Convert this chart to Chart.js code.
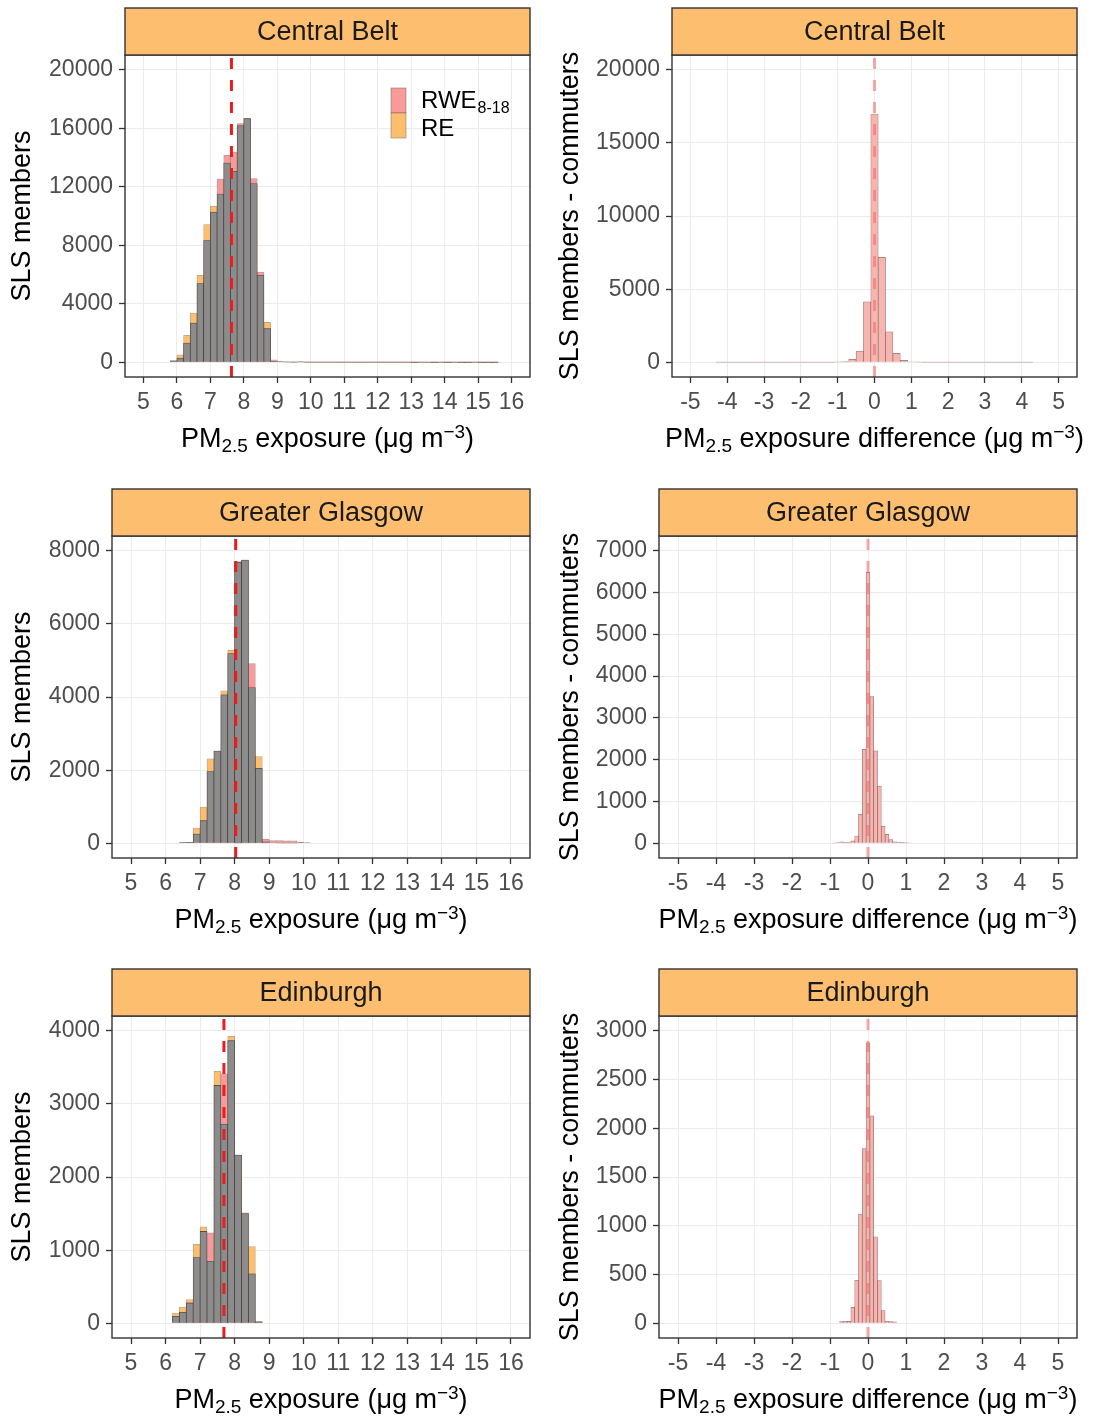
<!DOCTYPE html>
<html>
<head>
<meta charset="utf-8">
<script src="https://cdn.jsdelivr.net/npm/chart.js@4.4.1/dist/chart.umd.min.js"></script>
<style>
  html, body { margin: 0; padding: 0; background: #ffffff; }
  #page { position: relative; width: 1095px; height: 1416px; overflow: hidden; background: #ffffff; }
  #page canvas { position: absolute; }
</style>
</head>
<body>
<div id="page"></div>
<script>
// ---------- tick labels ----------
const exposureTicks = [5, 6, 7, 8, 9, 10, 11, 12, 13, 14, 15, 16];
const differenceTicks = [-5, -4, -3, -2, -1, 0, 1, 2, 3, 4, 5];
const centralBeltCountTicks = [0, 4000, 8000, 12000, 16000, 20000];
const centralBeltDiffCountTicks = [0, 5000, 10000, 15000, 20000];
const glasgowCountTicks = [0, 2000, 4000, 6000, 8000];
const glasgowDiffCountTicks = [0, 1000, 2000, 3000, 4000, 5000, 6000, 7000];
const edinburghCountTicks = [0, 1000, 2000, 3000, 4000];
const edinburghDiffCountTicks = [0, 500, 1000, 1500, 2000, 2500, 3000];

// ---------- categories ----------
const regions = ['Central Belt', 'Greater Glasgow', 'Edinburgh'];
const seriesNames = ['RWE', 'RE'];

// ---------- Central Belt: exposure histogram (bins of 0.2 from 5.8) ----------
const centralBeltBinStart = 5.8;
const centralBeltBinWidth = 0.2;
const centralBeltRWE = [110, 300, 1320, 2690, 5380, 8320, 10270, 12530, 14150, 14370,
  16310, 16650, 12550, 6170, 2300, 180, 70, 30, 40, 60,
  25, 15, 10, 10, 12, 8, 10, 8, 6, 8,
  10, 6, 5, 8, 6, 5, 4, 6, 5, 4,
  6, 4, 5, 3, 4, 5, 3, 4, 3];
const centralBeltRE = [110, 520, 1850, 3370, 5950, 9410, 10660, 11500, 13620, 13050,
  16170, 16650, 12210, 5950, 2730, 70, 40, 25, 20, 30,
  20, 15, 10, 10, 12, 8, 10, 8, 6, 8,
  10, 6, 5, 8, 6, 5, 4, 6, 5, 4,
  6, 4, 5, 3, 4, 5, 3, 4, 3];

// ---------- Central Belt: exposure difference (bins of 0.2 from -4.3) ----------
const centralBeltDiffBinStart = -4.3;
const centralBeltDiffBinWidth = 0.2;
const centralBeltDiff = [5, 8, 5, 6, 5, 6, 8, 6, 7, 8,
  10, 9, 10, 12, 14, 18, 25, 50, 200, 770,
  4140, 16970, 7170, 2090, 610, 140, 40, 22, 15, 12,
  10, 9, 8, 8, 7, 6, 7, 6, 6, 8,
  15, 20, 8];

// ---------- Greater Glasgow: exposure histogram (bins of 0.2 from 6.4) ----------
const glasgowBinStart = 6.4;
const glasgowBinWidth = 0.2;
const glasgowRWE = [20, 25, 256, 620, 1960, 2520, 4060, 5190, 7700, 7740, 4910, 2050, 110, 75, 75, 70, 72, 20, 15];
const glasgowRE = [20, 25, 420, 990, 2310, 2520, 4170, 5280, 7680, 7740, 4260, 2370, 40, 15, 12, 10, 10, 20, 15];

// ---------- Greater Glasgow: exposure difference (bins of 0.1 from -0.95) ----------
const glasgowDiffBinStart = -0.95;
const glasgowDiffBinWidth = 0.1;
const glasgowDiff = [10, 20, 35, 25, 30, 60, 176, 695, 2250, 6480, 3510, 2210, 1370, 415, 216, 88, 35, 30, 25, 20, 15];

// ---------- Edinburgh: exposure histogram (bins of 0.2 from 6.2) ----------
const edinburghBinStart = 6.2;
const edinburghBinWidth = 0.2;
const edinburghRWE = [96, 151, 279, 900, 1256, 1237, 3251, 3411, 3863, 2300, 1510, 676, 20];
const edinburghRE = [142, 224, 324, 1080, 1320, 849, 3443, 2721, 3922, 2300, 1500, 1050, 25];

// ---------- Edinburgh: exposure difference (bins of 0.1 from -0.75) ----------
const edinburghDiffBinStart = -0.75;
const edinburghDiffBinWidth = 0.1;
const edinburghDiff = [18, 22, 20, 164, 442, 1120, 1791, 2874, 2127, 887, 438, 130, 22, 18, 15];

// ---------- reference lines ----------
const meanExposure = [7.63, 8.03, 7.69];   // Central Belt, Greater Glasgow, Edinburgh
const zeroDifference = [0, 0, 0];

// ---------- styling ----------
const FONT = '"Liberation Sans", Arial, Helvetica, sans-serif';
const TICK_SIZE = 23;
const TITLE_SIZE = 27;
const COL_GRAY = '#8C8C8C';
const COL_RWE = '#F99A9A';
const COL_RE = '#FDBE6E';
const COL_DIFF = '#F8B4AE';
const COL_STRIP = '#FDBF6F';
const COL_FRAME = '#333333';

function centres(start, width, n) {
  const out = [];
  for (let i = 0; i < n; i++) out.push(+(start + width * (i + 0.5)).toFixed(4));
  return out;
}

function drawRich(ctx, parts, cx, baseline) {
  let total = 0;
  parts.forEach(p => {
    ctx.font = p.size + 'px ' + FONT;
    p.w = ctx.measureText(p.t).width;
    total += p.w;
  });
  let x = cx - total / 2;
  ctx.textAlign = 'left';
  ctx.textBaseline = 'alphabetic';
  parts.forEach(p => {
    ctx.font = p.size + 'px ' + FONT;
    ctx.fillText(p.t, x + (p.dx || 0), baseline + (p.dy || 0));
    x += p.w;
  });
}

const exposureTitle = [
  { t: 'PM', size: TITLE_SIZE }, { t: '2.5', size: 19, dy: 5 },
  { t: ' exposure (\u03BCg m', size: TITLE_SIZE }, { t: '\u22123', size: 19, dy: -9 },
  { t: ')', size: TITLE_SIZE }
];
const differenceTitle = [
  { t: 'PM', size: TITLE_SIZE }, { t: '2.5', size: 19, dy: 5 },
  { t: ' exposure difference (\u03BCg m', size: TITLE_SIZE }, { t: '\u22123', size: 19, dy: -9 },
  { t: ')', size: TITLE_SIZE }
];

function decorPlugin(cfg) {
  return {
    id: 'panelDecor',
    afterDatasetsDraw(chart) {
      const ctx = chart.ctx, a = chart.chartArea;
      const x = chart.scales.x.getPixelForValue(cfg.refValue);
      ctx.save();
      ctx.beginPath();
      ctx.rect(a.left, a.top, a.right - a.left, a.bottom - a.top);
      ctx.clip();
      ctx.strokeStyle = cfg.refColor;
      ctx.lineWidth = 3;
      ctx.setLineDash([11, 11]);
      ctx.beginPath();
      ctx.moveTo(x, a.bottom);
      ctx.lineTo(x, a.top);
      ctx.stroke();
      ctx.restore();
    },
    afterDraw(chart) {
      const ctx = chart.ctx, a = chart.chartArea;
      ctx.save();
      // panel frame
      ctx.strokeStyle = COL_FRAME;
      ctx.lineWidth = 1.4;
      ctx.strokeRect(a.left, a.top, a.right - a.left, a.bottom - a.top);
      // facet strip
      ctx.fillStyle = COL_STRIP;
      ctx.fillRect(a.left, 8, a.right - a.left, a.top - 8);
      ctx.strokeRect(a.left, 8, a.right - a.left, a.top - 8);
      ctx.fillStyle = '#1A1A1A';
      ctx.font = TITLE_SIZE + 'px ' + FONT;
      ctx.textAlign = 'center';
      ctx.textBaseline = 'middle';
      ctx.fillText(cfg.strip, (a.left + a.right) / 2, (8 + a.top) / 2 + 1);
      // y axis title
      ctx.fillStyle = '#000000';
      ctx.save();
      ctx.translate(cfg.yTitleX, (a.top + a.bottom) / 2);
      ctx.rotate(-Math.PI / 2);
      ctx.font = TITLE_SIZE + 'px ' + FONT;
      ctx.textAlign = 'center';
      ctx.textBaseline = 'middle';
      ctx.fillText(cfg.yTitle, 0, 0);
      ctx.restore();
      // x axis title
      drawRich(ctx, cfg.xTitle, (a.left + a.right) / 2, 447);
      // legend
      if (cfg.legend) {
        ctx.lineWidth = 0.8;
        ctx.strokeStyle = 'rgba(80,80,80,0.5)';
        ctx.fillStyle = COL_RWE;
        ctx.fillRect(391, 88, 15, 25);
        ctx.strokeRect(391, 88, 15, 25);
        ctx.fillStyle = COL_RE;
        ctx.fillRect(391, 113, 15, 25);
        ctx.strokeRect(391, 113, 15, 25);
        ctx.fillStyle = '#000000';
        ctx.textAlign = 'left';
        ctx.textBaseline = 'alphabetic';
        ctx.font = '24px ' + FONT;
        ctx.fillText(seriesNames[0], 421, 108);
        const w = ctx.measureText(seriesNames[0]).width;
        ctx.font = '16px ' + FONT;
        ctx.fillText('8-18', 421 + w + 1, 113);
        ctx.font = '24px ' + FONT;
        ctx.fillText(seriesNames[1], 421, 136);
      }
      ctx.restore();
    }
  };
}

function axisCommon(tickValues, min, max, pad) {
  return {
    type: 'linear',
    min: min,
    max: max,
    offset: false,
    afterBuildTicks: s => { s.ticks = tickValues.map(v => ({ value: v })); },
    ticks: {
      autoSkip: false, maxRotation: 0, minRotation: 0, padding: pad,
      color: '#4D4D4D', font: { family: FONT, size: TICK_SIZE },
      callback: v => String(v)
    },
    grid: { color: '#EBEBEB', lineWidth: 1, offset: false, tickColor: COL_FRAME, tickLength: 6, tickWidth: 1.3 },
    border: { display: false }
  };
}

function makePanel(p) {
  const page = document.getElementById('page');
  const cv = document.createElement('canvas');
  cv.width = p.w; cv.height = 455;
  cv.style.width = p.w + 'px'; cv.style.height = '455px';
  cv.style.left = p.left + 'px'; cv.style.top = p.top + 'px';
  page.appendChild(cv);

  const xScale = axisCommon(p.xTicks, p.xRange[0], p.xRange[1], 6);
  xScale.afterFit = s => { s.height = 78; };
  const yScale = axisCommon(p.yTicks, p.yRange[0], p.yRange[1], 6);
  yScale.afterFit = s => { s.width = p.yAxisWidth; };

  new Chart(cv, {
    type: 'bar',
    data: { datasets: p.datasets },
    options: {
      responsive: false,
      animation: false,
      devicePixelRatio: 1,
      layout: { padding: { top: 55, right: p.rightPad, left: 0, bottom: 0 } },
      plugins: { legend: { display: false }, tooltip: { enabled: false }, title: { display: false } },
      datasets: { bar: { grouped: false, barPercentage: 1, categoryPercentage: 1 } },
      scales: { x: xScale, y: yScale }
    },
    plugins: [decorPlugin(p.decor)]
  });
}

function exposureDatasets(start, width, rwe, re) {
  const xs = centres(start, width, rwe.length);
  const both = rwe.map((v, i) => Math.min(v, re[i]));
  const bar = (vals, fill, border) => ({
    data: xs.map((x, i) => ({ x: x, y: vals[i] })),
    backgroundColor: fill, borderColor: border, borderWidth: 0.8, borderSkipped: 'start'
  });
  // overlap first so it is painted on top of the two series
  return [
    bar(both, COL_GRAY, 'rgba(60,60,60,0.75)'),
    bar(rwe, COL_RWE, 'rgba(120,70,70,0.55)'),
    bar(re, COL_RE, 'rgba(120,90,50,0.55)')
  ];
}

function differenceDatasets(start, width, vals) {
  const xs = centres(start, width, vals.length);
  return [{
    data: xs.map((x, i) => ({ x: x, y: vals[i] })),
    backgroundColor: COL_DIFF, borderColor: 'rgba(110,75,72,0.75)', borderWidth: 0.7, borderSkipped: 'start'
  }];
}

const exposureRange = [4.45, 16.55];
const differenceRange = [-5.5, 5.5];
const rowTops = [0, 481, 961];

// Central Belt
makePanel({
  left: 0, top: rowTops[0], w: 547, rightPad: 17, yAxisWidth: 125,
  xTicks: exposureTicks, xRange: exposureRange,
  yTicks: centralBeltCountTicks, yRange: [-1000, 21000],
  datasets: exposureDatasets(centralBeltBinStart, centralBeltBinWidth, centralBeltRWE, centralBeltRE),
  decor: { strip: regions[0], yTitle: 'SLS members', yTitleX: 23, xTitle: exposureTitle,
           refValue: meanExposure[0], refColor: '#EC1C1C', legend: true }
});
makePanel({
  left: 547, top: rowTops[0], w: 548, rightPad: 18, yAxisWidth: 125,
  xTicks: differenceTicks, xRange: differenceRange,
  yTicks: centralBeltDiffCountTicks, yRange: [-1000, 21000],
  datasets: differenceDatasets(centralBeltDiffBinStart, centralBeltDiffBinWidth, centralBeltDiff),
  decor: { strip: regions[0], yTitle: 'SLS members - commuters', yTitleX: 24, xTitle: differenceTitle,
           refValue: zeroDifference[0], refColor: 'rgba(245,110,110,0.6)', legend: false }
});

// Greater Glasgow
makePanel({
  left: 0, top: rowTops[1], w: 547, rightPad: 17, yAxisWidth: 112,
  xTicks: exposureTicks, xRange: exposureRange,
  yTicks: glasgowCountTicks, yRange: [-400, 8400],
  datasets: exposureDatasets(glasgowBinStart, glasgowBinWidth, glasgowRWE, glasgowRE),
  decor: { strip: regions[1], yTitle: 'SLS members', yTitleX: 23, xTitle: exposureTitle,
           refValue: meanExposure[1], refColor: '#EC1C1C', legend: false }
});
makePanel({
  left: 547, top: rowTops[1], w: 548, rightPad: 18, yAxisWidth: 112,
  xTicks: differenceTicks, xRange: differenceRange,
  yTicks: glasgowDiffCountTicks, yRange: [-350, 7350],
  datasets: differenceDatasets(glasgowDiffBinStart, glasgowDiffBinWidth, glasgowDiff),
  decor: { strip: regions[1], yTitle: 'SLS members - commuters', yTitleX: 24, xTitle: differenceTitle,
           refValue: zeroDifference[1], refColor: 'rgba(245,110,110,0.6)', legend: false }
});

// Edinburgh
makePanel({
  left: 0, top: rowTops[2], w: 547, rightPad: 17, yAxisWidth: 112,
  xTicks: exposureTicks, xRange: exposureRange,
  yTicks: edinburghCountTicks, yRange: [-200, 4200],
  datasets: exposureDatasets(edinburghBinStart, edinburghBinWidth, edinburghRWE, edinburghRE),
  decor: { strip: regions[2], yTitle: 'SLS members', yTitleX: 23, xTitle: exposureTitle,
           refValue: meanExposure[2], refColor: '#EC1C1C', legend: false }
});
makePanel({
  left: 547, top: rowTops[2], w: 548, rightPad: 18, yAxisWidth: 112,
  xTicks: differenceTicks, xRange: differenceRange,
  yTicks: edinburghDiffCountTicks, yRange: [-150, 3150],
  datasets: differenceDatasets(edinburghDiffBinStart, edinburghDiffBinWidth, edinburghDiff),
  decor: { strip: regions[2], yTitle: 'SLS members - commuters', yTitleX: 24, xTitle: differenceTitle,
           refValue: zeroDifference[2], refColor: 'rgba(245,110,110,0.6)', legend: false }
});
</script>
</body>
</html>
